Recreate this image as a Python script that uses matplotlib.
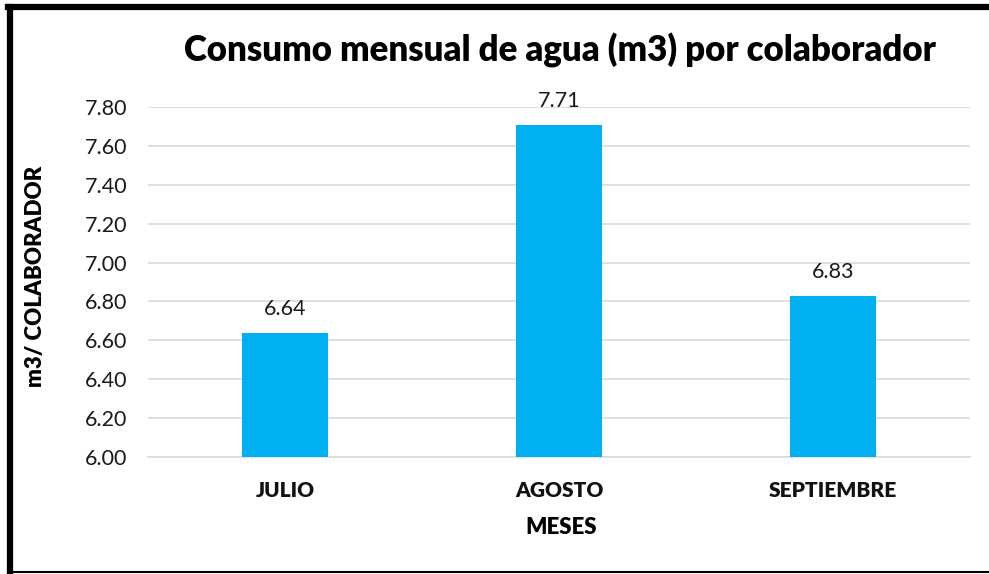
import matplotlib
matplotlib.use("Agg")
import matplotlib.pyplot as plt

categories = ["JULIO", "AGOSTO", "SEPTIEMBRE"]
values = [6.64, 7.71, 6.83]
yticks = [6.00, 6.20, 6.40, 6.60, 6.80, 7.00, 7.20, 7.40, 7.60, 7.80]

plt.rcParams['font.family'] = ['Lato', 'DejaVu Sans']
HEAVY = "heavy"

fig = plt.figure(figsize=(9.89, 5.74), dpi=100)
ax = fig.add_axes([148/989, 1-457/574, (970-148)/989, (457-107)/574])

x = range(len(categories))
ax.bar(x, values, width=0.315, color="#00b0f0", zorder=3)
ax.set_ylim(6.0, 7.8)
ax.set_xlim(-0.5, 2.5)
ax.set_yticks(yticks)
ax.set_yticklabels([f"{v:.2f}" for v in yticks], fontsize=15.5, color="#1a1a1a")
ax.set_xticks(list(x))
ax.set_xticklabels(categories, fontsize=15, fontweight=HEAVY, color="#111111")
ax.tick_params(axis="both", length=0)
ax.tick_params(axis="y", pad=15)
ax.tick_params(axis="x", pad=17)
ax.grid(axis="y", color="#d9d9d9", linewidth=1.2, zorder=0)
for s in ["top", "right", "left"]:
    ax.spines[s].set_visible(False)
ax.spines["bottom"].set_color("#d9d9d9")
ax.spines["bottom"].set_linewidth(1.2)

for xi, v in zip(x, values):
    ax.annotate(f"{v:.2f}", (xi, v), xytext=(0, 10), textcoords="offset points",
                ha="center", va="bottom", fontsize=15.5, color="#1a1a1a")

fig.text(560/989, 1-50/574, "Consumo mensual de agua (m3) por colaborador",
         ha="center", va="center", fontsize=25, fontweight=HEAVY, color="black")
fig.text(561/989, 1-527/574, "MESES", ha="center", va="center",
         fontsize=16, fontweight=HEAVY, color="black")
fig.text(36/989, 1-276/574, "m3/ COLABORADOR", ha="center", va="center",
         rotation=90, fontsize=16, fontweight=HEAVY, color="black")

# frame
fig.add_artist(plt.Line2D([10/989, 10/989], [0, 1-7/574], transform=fig.transFigure,
                          color="black", linewidth=4.5))
fig.add_artist(plt.Line2D([8/989, 1], [1-7/574, 1-7/574], transform=fig.transFigure,
                          color="black", linewidth=4.5))
fig.add_artist(plt.Line2D([8/989, 1], [1-572/574, 1-572/574], transform=fig.transFigure,
                          color="black", linewidth=1.5))

fig.savefig("out.png", dpi=100)
